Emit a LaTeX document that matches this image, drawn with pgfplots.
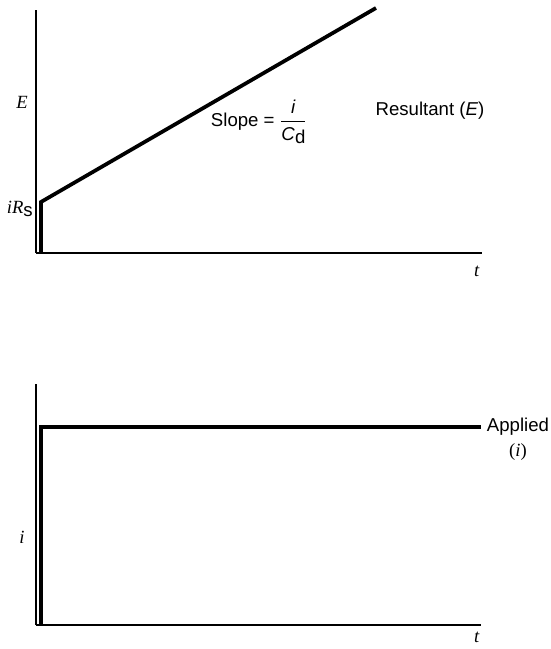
\documentclass[border=0pt]{standalone}
\usepackage{amsmath}
\usepackage{fontspec}
\setmainfont{Liberation Serif}
\newfontfamily\hv{Liberation Sans}
\usepackage{pgfplots}
\pgfplotsset{compat=1.18}

% 1 px of the reference = 0.72pt
\pgfplotsset{pane/.style={
  x=0.72pt,y=0.72pt,xmin=0,xmax=446,ymin=0,ymax=243,
  axis lines=left,axis line style={-,line width=1pt},
  ticks=none,clip=false,anchor=south west}}
\tikzset{lbl/.style={font=\fontsize{13.4}{16}\selectfont}}

\begin{document}
\begin{tikzpicture}
\useasboundingbox (0,0) rectangle (396pt,467.28pt);

% upper pane: resultant potential
\begin{axis}[pane,at={(25.92pt,285.12pt)}]
\addplot[black,line width=2.7pt,line join=miter] coordinates {(5,0) (5,51) (340,245)};
\node[lbl] at (axis cs:-14,151) {\textit{E}};
\node[lbl,anchor=east,inner sep=0pt] at (axis cs:-3,44) {\textit{iR}\raisebox{-0.35ex}{\hv s}};
\node[lbl] at (axis cs:223,131) {\hv Slope = $\dfrac{\mbox{\textit{i}}}{\mbox{\textit{C}\raisebox{-0.35ex}{\hv d}}}$};
\node[lbl] at (axis cs:394,142) {\hv Resultant (\textit{E})};
\node[lbl] at (axis cs:441,-18) {\textit{t}};
\end{axis}

% lower pane: applied current
\begin{axis}[pane,at={(25.92pt,17.28pt)},ymax=241,xmax=445]
\addplot[black,line width=2.7pt,line join=miter] coordinates {(5,0) (5,198) (445,198)};
\node[lbl] at (axis cs:-14,88) {\textit{i}};
\node[lbl,align=center] at (axis cs:482,186) {\hv Applied\\[2pt]\normalfont(\textit{i})};
\node[lbl] at (axis cs:441,-12) {\textit{t}};
\end{axis}
\end{tikzpicture}
\end{document}
